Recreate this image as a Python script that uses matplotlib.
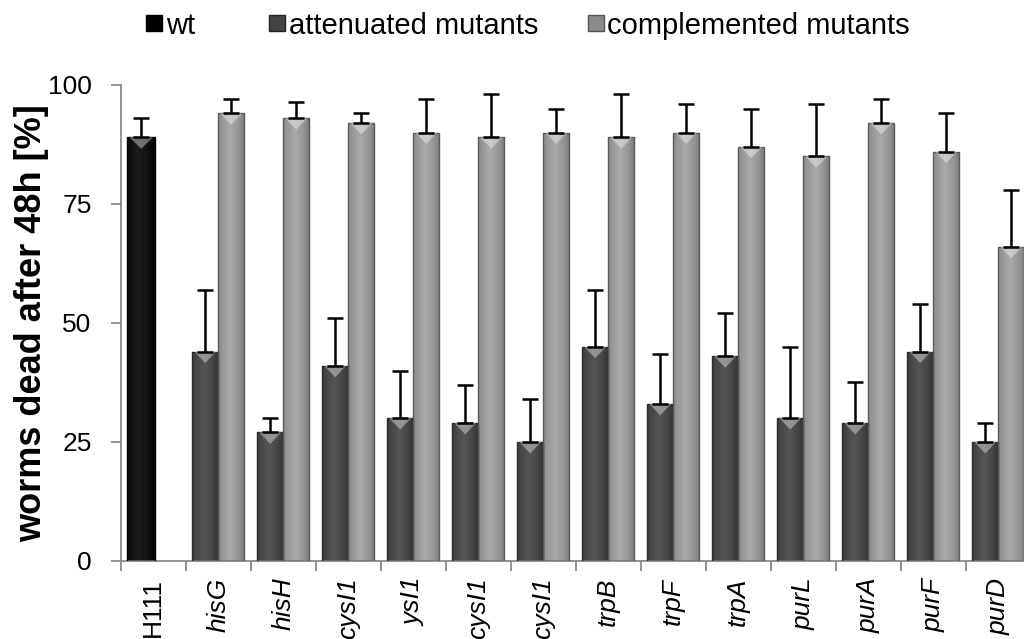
import matplotlib
matplotlib.use("Agg")
import matplotlib.pyplot as plt
import numpy as np
from matplotlib.patches import Polygon
from matplotlib.lines import Line2D

plt.rcParams['font.family'] = ['Liberation Sans', 'DejaVu Sans']

categories = ['H111', 'hisG', 'hisH', 'cysI1', 'ysI1', 'cysI1', 'cysI1',
              'trpB', 'trpF', 'trpA', 'purL', 'purA', 'purF', 'purD']
wt_value = 89
wt_err = 4
atten = [44, 27, 41, 30, 29, 25, 45, 33, 43, 30, 29, 44, 25]
atten_err = [13, 3, 10, 10, 8, 9, 12, 10.5, 9, 15, 8.5, 10, 4]
comp = [94, 93, 92, 90, 89, 90, 89, 90, 87, 85, 92, 86, 66]
comp_err = [3, 3.5, 2, 7, 9, 5, 9, 6, 8, 11, 5, 8, 12]
yticks = [0, 25, 50, 75, 100]

fig = plt.figure(figsize=(10.24, 6.39), dpi=100)
ax = fig.add_axes([0.1179, 0.1221, 0.8887, 0.745])

centers = np.arange(len(categories)) + 0.5
bw = 0.4


def shade_bars(bars, edge, mid, dark):
    # horizontal gradient inside every bar + light "v" on top, like the excel bevel
    grad = np.linspace(0, 1, 64)
    prof = 1 - np.abs(grad - 0.45) * 2
    prof = np.clip(prof, 0, 1) ** 0.6
    c0 = np.array(matplotlib.colors.to_rgb(dark))
    c1 = np.array(matplotlib.colors.to_rgb(mid))
    img = c0[None, :] + (c1 - c0)[None, :] * prof[:, None]
    img = img[None, :, :]
    for b in bars:
        x, w, h = b.get_x(), b.get_width(), b.get_height()
        b.set_facecolor('none')
        b.set_edgecolor(edge)
        b.set_linewidth(1.0)
        im = ax.imshow(img, extent=[x, x + w, 0, h], aspect='auto',
                       zorder=2, interpolation='bilinear')
        im.set_clip_path(b)
        depth = 2.4
        tri = Polygon([(x + w * 0.08, h), (x + w * 0.92, h), (x + w / 2, h - depth)],
                      closed=True, facecolor='white', alpha=0.38,
                      edgecolor='none', zorder=3)
        ax.add_patch(tri)


b_wt = ax.bar([centers[0] - 0.185], [wt_value], width=0.43, zorder=3)
b_at = ax.bar(centers[1:] - 0.2, atten, width=bw, zorder=3)
b_co = ax.bar(centers[1:] + 0.2, comp, width=bw, zorder=3)

shade_bars(b_wt, '#000000', '#1c1c1c', '#000000')
shade_bars(b_at, '#2a2a2a', '#555555', '#333333')
shade_bars(b_co, '#5a5a5a', '#aaaaaa', '#7c7c7c')

ekw = dict(fmt='none', ecolor='black', elinewidth=1.8, capsize=6, capthick=1.8, zorder=4)
ax.errorbar([centers[0] - 0.185], [wt_value], yerr=[[0], [wt_err]], **ekw)
ax.errorbar(centers[1:] - 0.2, atten, yerr=[np.zeros(len(atten)), atten_err], **ekw)
ax.errorbar(centers[1:] + 0.2, comp, yerr=[np.zeros(len(comp)), comp_err], **ekw)

ax.set_xlim(0, len(categories))
ax.set_ylim(0, 100)
ax.set_yticks(yticks)
ax.set_yticklabels([str(t) for t in yticks], fontsize=19)

ax.set_xticks(centers)
ax.set_xticks(np.arange(len(categories) + 1), minor=True)
ax.tick_params(axis='x', which='major', length=0, pad=12)
ax.tick_params(axis='x', which='minor', length=7, color='#808080', width=1.2)
ax.tick_params(axis='y', length=7, color='#808080', width=1.2, pad=14)
ax.set_xticklabels(categories, rotation=90, fontsize=19, va='top', ha='center')
for i, lab in enumerate(ax.get_xticklabels()):
    if i > 0:
        lab.set_style('italic')

for s in ['top', 'right']:
    ax.spines[s].set_visible(False)
for s in ['left', 'bottom']:
    ax.spines[s].set_color('#808080')
    ax.spines[s].set_linewidth(1.2)

ax.set_ylabel('worms dead after 48h [%]', fontsize=26, fontweight='bold')
ax.yaxis.set_label_coords(-0.079, 0.5)

legend_items = [
    ('wt', '#000000', '#000000', 0.142),
    ('attenuated mutants', '#444444', '#222222', 0.262),
    ('complemented mutants', '#8a8a8a', '#555555', 0.573),
]
for label, fc, ec, xpos in legend_items:
    h = Line2D([], [], marker='s', linestyle='none', markersize=11,
               markerfacecolor=fc, markeredgecolor=ec)
    leg = fig.legend([h], [label], loc='center left', bbox_to_anchor=(xpos, 0.960),
                     frameon=False, fontsize=21, handlelength=0.6, handletextpad=0.1,
                     borderpad=0, borderaxespad=0)

fig.savefig('out.png', dpi=100)
